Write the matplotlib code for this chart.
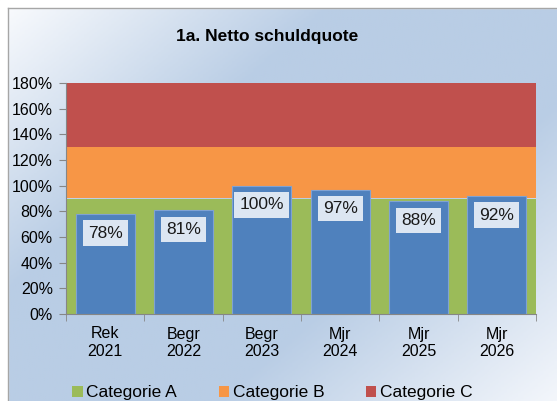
import numpy as np
import matplotlib.pyplot as plt
from matplotlib.colors import LinearSegmentedColormap
from matplotlib.patches import Patch, Rectangle
from matplotlib.ticker import FuncFormatter, MultipleLocator

plt.rcParams['font.family'] = ['Liberation Sans', 'DejaVu Sans']

categories = ['Rek\n2021', 'Begr\n2022', 'Begr\n2023', 'Mjr\n2024', 'Mjr\n2025', 'Mjr\n2026']
schuldquote = [78, 81, 100, 97, 88, 92]
cat_a = [90, 90, 90, 90, 90, 90]
cat_b = [40, 40, 40, 40, 40, 40]
cat_c = [50, 50, 50, 50, 50, 50]
band_names = ['Categorie A', 'Categorie B', 'Categorie C']
band_colors = ['#9bbb59', '#f79646', '#c0504d']

fig = plt.figure(figsize=(5.57, 4.01), dpi=100)

# background gradient of the chart area
bg = fig.add_axes([0, 0, 1, 1], zorder=-10)
bg.set_axis_off()
yy, xx = np.mgrid[0:1:200j, 0:1:200j]
t = (xx * 0.55 + yy * 0.45)
cmap = LinearSegmentedColormap.from_list('bg', ['#fbfcfe', '#b9cde5', '#b9cde5', '#f3f6fb'], N=256)
bg.imshow(t, cmap=cmap, extent=[0, 1, 0, 1], aspect='auto', origin='upper')
bg.set_xlim(0, 1)
bg.set_ylim(0, 1)
x0, y1 = 8 / 557, 1 - 8 / 401
bg.add_patch(Rectangle((0, 0), x0, 1, color='white', zorder=2))
bg.add_patch(Rectangle((0, y1), 1, 1 - y1, color='white', zorder=2))
bg.plot([x0, x0], [0, y1], color='#a6a6a6', lw=1, zorder=3)
bg.plot([x0, 1], [y1, y1], color='#a6a6a6', lw=1, zorder=3)

ax = fig.add_axes([66 / 557, 1 - 314 / 401, 470 / 557, 231 / 401])
ax.set_facecolor('none')
x = np.arange(len(categories))

bottom = np.zeros(len(categories))
for vals, col in zip([cat_a, cat_b, cat_c], band_colors):
    ax.bar(x, vals, width=1.0, bottom=bottom, color=col, zorder=1)
    bottom += np.array(vals)

bars = ax.bar(x, schuldquote, width=0.75, color='#4f81bd', edgecolor='#7fa2d3', linewidth=0.8, zorder=2)
for xi, v in zip(x, schuldquote):
    ax.text(xi, v - 15, f'{v}%', ha='center', va='center', fontsize=12.5, color='#1a1a1a', zorder=3,
            bbox=dict(boxstyle='square,pad=0.3', facecolor='#dce6f2', edgecolor='none'))

ax.set_xlim(-0.5, len(categories) - 0.5)
ax.set_ylim(0, 180)
ax.yaxis.set_major_locator(MultipleLocator(20))
ax.yaxis.set_major_formatter(FuncFormatter(lambda v, p: f'{v:.0f}%'))
ax.set_xticks(x)
ax.set_xticklabels(categories)
ax.set_xticks(np.arange(-0.5, len(categories)), minor=True)
ax.tick_params(axis='x', which='major', length=0, pad=9, labelsize=11.5)
ax.tick_params(axis='x', which='minor', length=5, color='#868686')
ax.tick_params(axis='y', length=5, color='#868686', labelsize=11.5, pad=4.5)
for side in ['top', 'right']:
    ax.spines[side].set_visible(False)
for side in ['left', 'bottom']:
    ax.spines[side].set_color('#868686')

fig.text(0.48, 1 - 37 / 401, '1a. Netto schuldquote', ha='center', va='center', fontsize=12.5, fontweight='bold')

handles = [Patch(facecolor=c, edgecolor='none') for c in band_colors]
fig.legend(handles, band_names, loc='center', bbox_to_anchor=(0.489, 1 - 393 / 401), ncol=3, frameon=False,
           fontsize=12.5, handlelength=0.6, handleheight=0.6, handletextpad=0.2, columnspacing=2.4)

fig.savefig('out.png', dpi=100)
